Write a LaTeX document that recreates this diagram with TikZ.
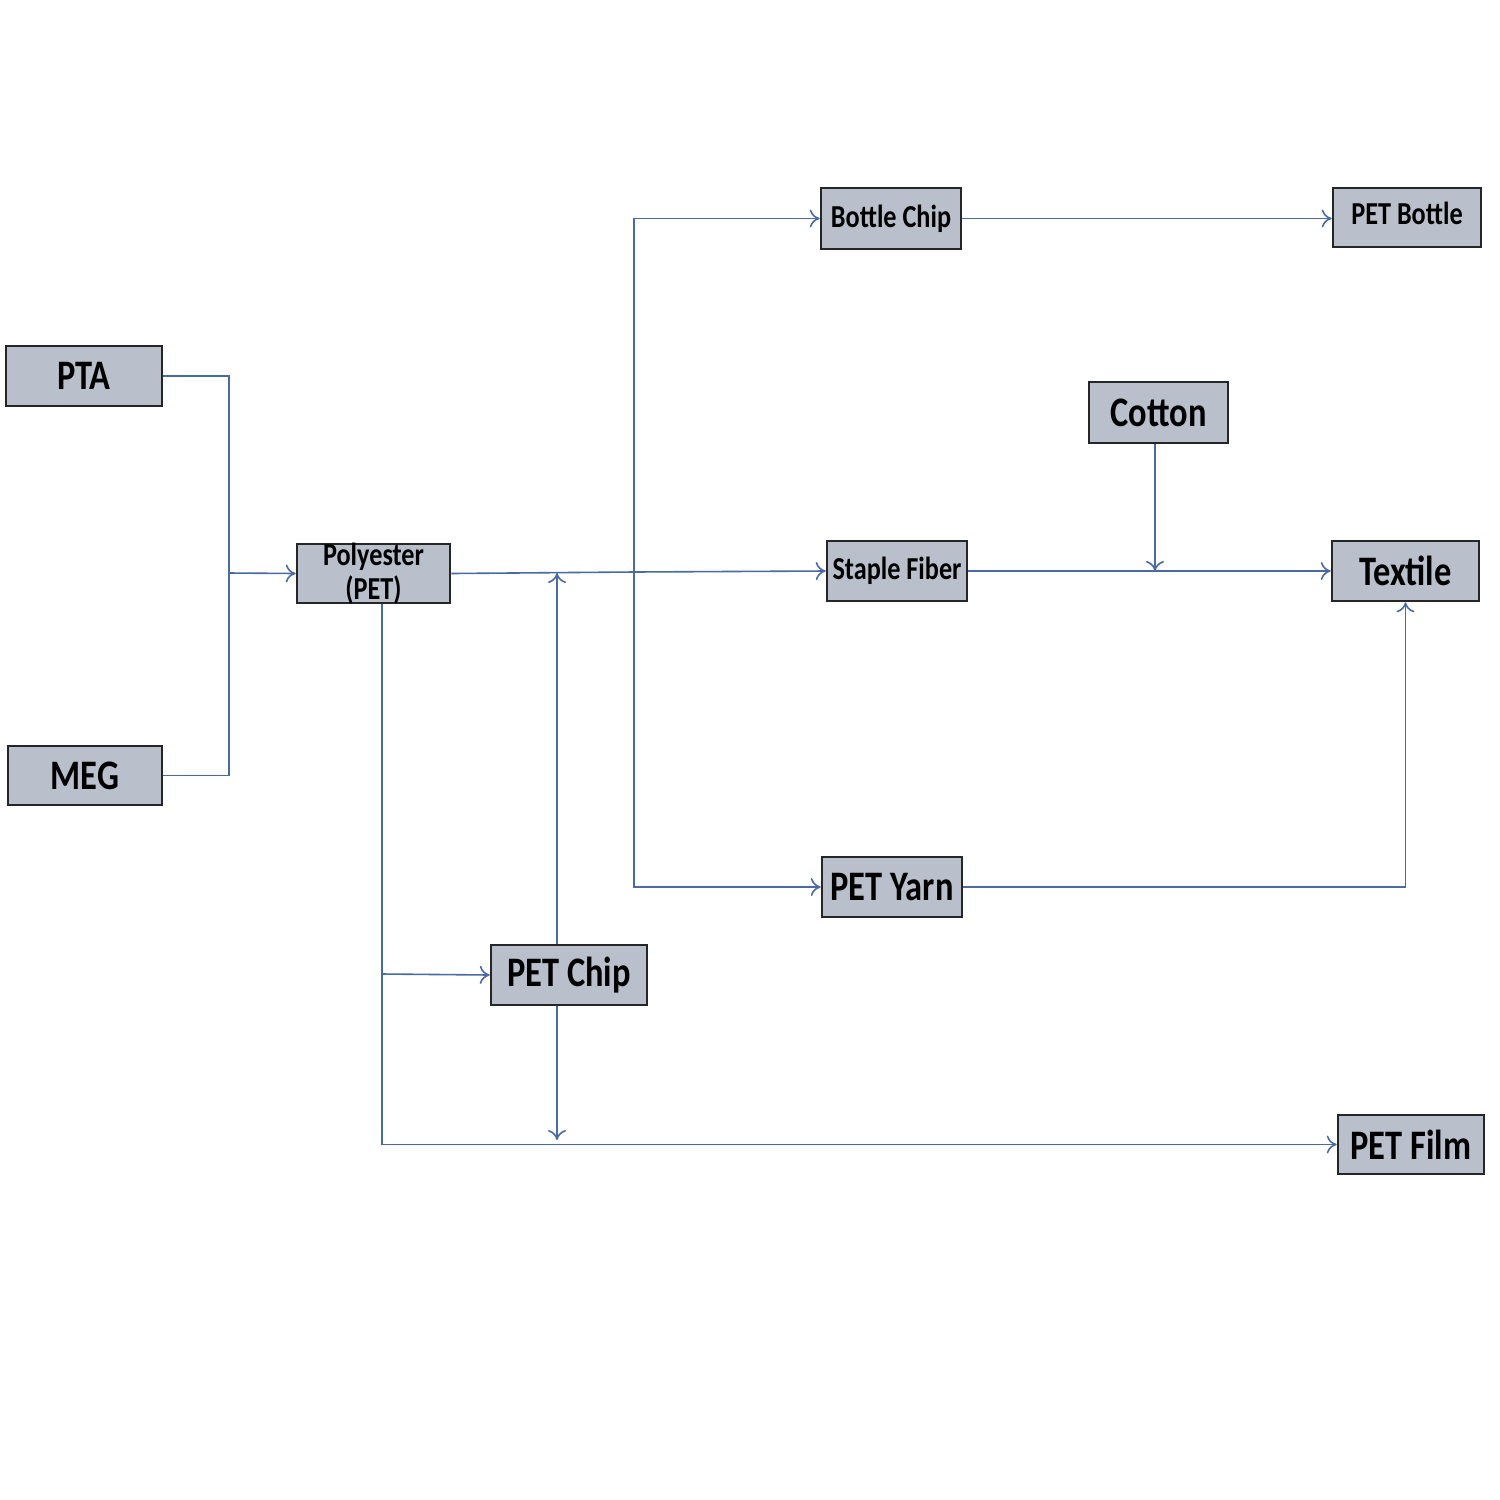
\documentclass[tikz,border=0pt]{standalone}
\usepackage{fontspec}
\setmainfont{Carlito}
\newfontfamily\narrowf[FakeStretch=0.82]{Carlito}
\usetikzlibrary{arrows.meta}
\begin{document}
\begin{tikzpicture}[x=0.5pt,y=-0.5pt,
  box/.style={draw=black!85,line width=1.3pt,fill=boxc,inner sep=0pt},
  conn/.style={draw=linec,line width=0.8pt},
  arr/.style={conn,-{To[length=5pt,width=9pt]}},
  big/.style={font=\narrowf\bfseries\fontsize{21}{21}\selectfont},
  small/.style={font=\narrowf\bfseries\fontsize{16}{17}\selectfont}]
\definecolor{boxc}{HTML}{B9C0CC}
\definecolor{linec}{HTML}{4A6AA5}
\useasboundingbox (0,0) rectangle (1500,1500);
\newcommand\bx[6]{\node[box,#6,minimum width=(#4-#2)*0.5pt,minimum height=(#5-#3)*0.5pt] (#1) at ({(#2+#4)/2},{(#3+#5)/2}) {};}
\bx{pta}{6}{346}{162}{406}{}
\bx{meg}{8}{746}{162}{805}{}
\bx{pol}{297}{544}{450}{603}{}
\bx{bc}{821}{188}{961}{249}{}
\bx{pb}{1333}{188}{1481}{247}{}
\bx{cot}{1089}{382}{1228}{443}{}
\bx{sf}{827}{541}{967}{601}{}
\bx{tex}{1332}{541}{1479}{601}{}
\bx{py}{822}{857}{962}{917}{}
\bx{pc}{491}{945}{647}{1005}{}
\bx{pf}{1338}{1115}{1484}{1174}{}
\node[big] at (pta) {PTA};
\node[big] at (meg) {MEG};
\node[small,align=center] at (pol) {Polyester\\(PET)};
\node[small] at (bc) {Bottle Chip};
\node[small] at ([yshift=2pt]pb) {PET Bottle};
\node[big] at (cot) {Cotton};
\node[small] at (sf) {Staple Fiber};
\node[big] at (tex) {Textile};
\node[big] at (py) {PET Yarn};
\node[big] at (pc) {PET Chip};
\node[big] at (pf) {PET Film};
\coordinate (j1) at (229,573);
\coordinate (j2) at (634,572);
\coordinate (j3) at (382,974);
\coordinate (cj) at (1155,571);
\coordinate (pcup) at (557,573);
\coordinate (pcdn) at (557,1140);
\draw[conn] (pta.east) -| (j1) |- (meg.east);
\draw[arr] (j1) -- (pol.west);
\draw[conn] (pol.east) -- (j2);
\draw[arr] (j2) |- (bc.west);
\draw[arr] (j2) -- (sf.west);
\draw[arr] (j2) |- (py.west);
\draw[arr] (bc.east) -- (pb.west |- bc.east);
\draw[arr] (sf.east) -- (tex.west);
\draw[arr] (cot.south -| cj) -- (cj);
\draw[arr] (py.east) -| (tex.south);
\draw[arr] (pol.south -| 382,0) |- (pf.west);
\draw[arr] (j3) -- (pc.west);
\draw[arr] (pc.north -| pcup) -- (pcup);
\draw[arr] (pc.south -| pcdn) -- (pcdn);
\end{tikzpicture}
\end{document}
